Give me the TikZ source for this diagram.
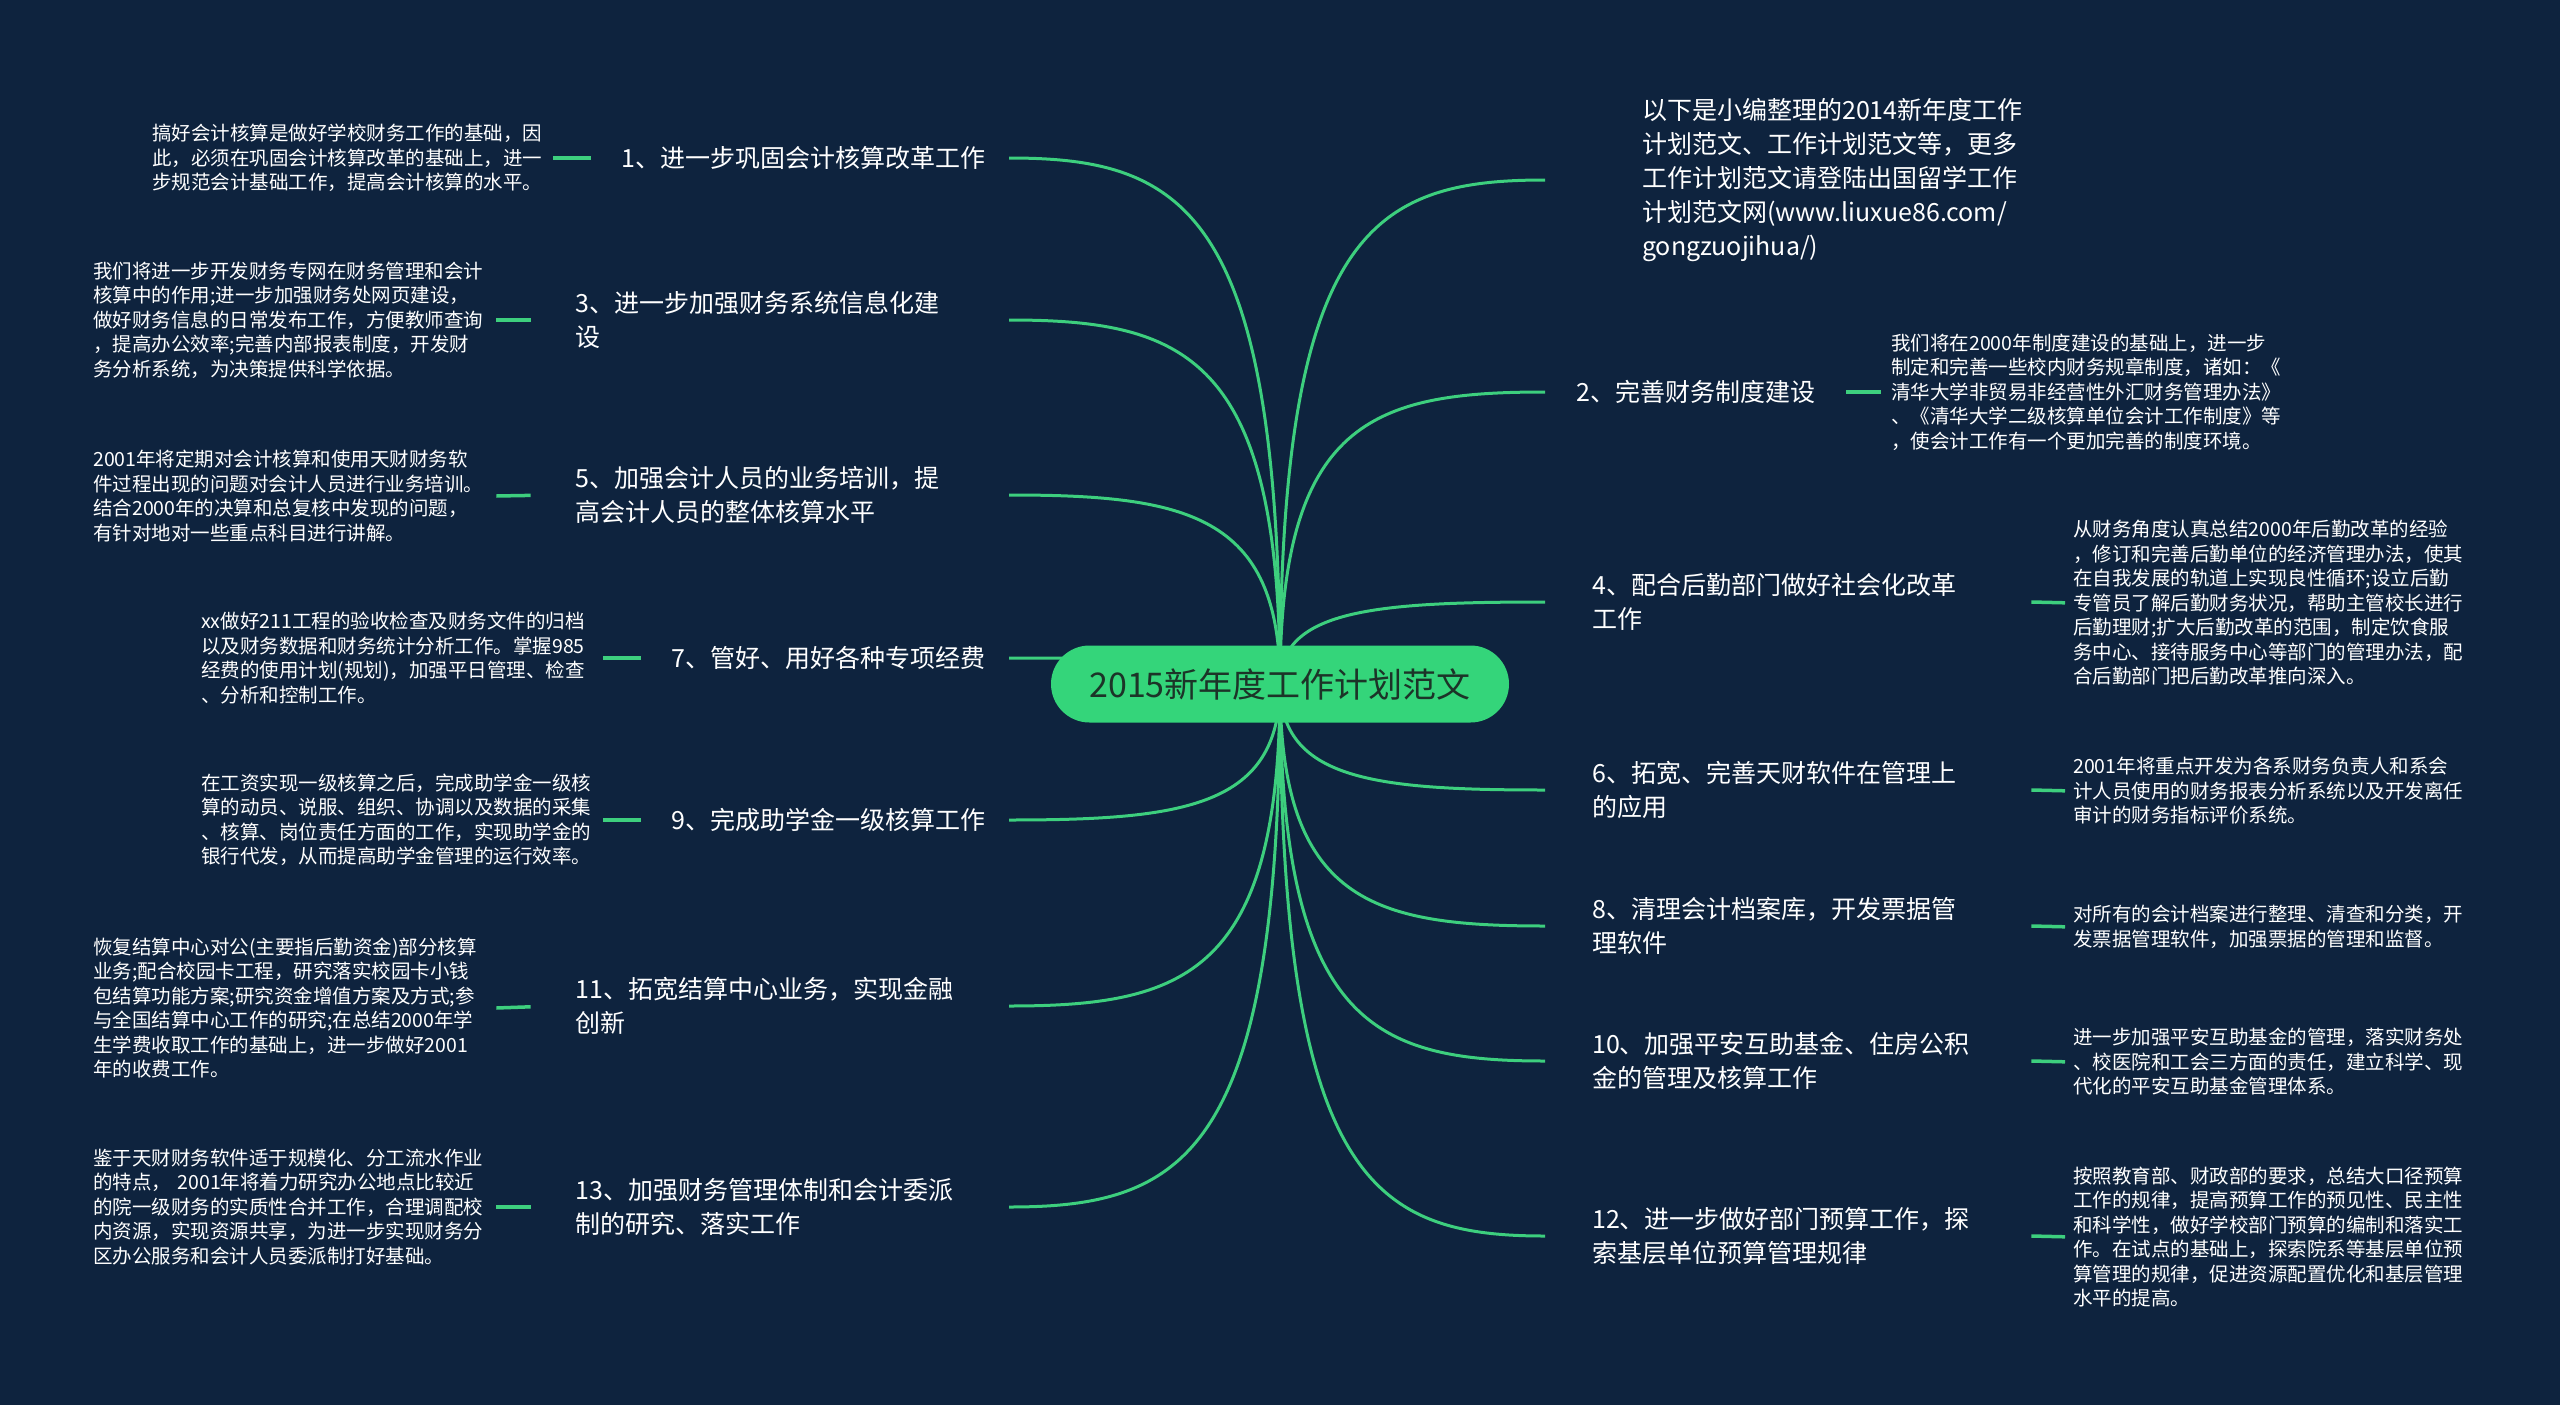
\documentclass[tikz,border=0pt]{standalone}
\usepackage{fontspec}
\newfontfamily\cjk{Noto Sans CJK SC}
\usetikzlibrary{calc}
\definecolor{bgcol}{RGB}{14,35,62}
\definecolor{linkcol}{RGB}{61,207,126}
\definecolor{rootfill}{RGB}{52,213,122}
\definecolor{roottext}{RGB}{28,52,40}
\pgfdeclarelayer{bglayer}
\pgfdeclarelayer{links}
\pgfsetlayers{bglayer,links,main}
\tikzset{
  root/.style={rectangle, rounded corners=38.5pt, fill=rootfill, minimum width=458pt,
    minimum height=77pt, inner sep=0pt, text=roottext, font=\cjk\fontsize{34}{40}\selectfont},
  topic/.style={text=white, font=\cjk\fontsize{25}{34}\selectfont, align=left, inner ysep=0pt},
  desc/.style={text=white, font=\cjk\fontsize{19.5}{24.5}\selectfont, align=left, inner sep=0pt},
  link/.style={draw=linkcol, line width=3pt},
  stub/.style={draw=linkcol, line width=3.5pt},
}
\newcommand\branchto[1]{%
  \draw[link] (root.center) .. controls ($(root.center)!0.9!(root.center|-#1)$)
    and ($(#1)!0.65!(root.center|-#1)$) .. (#1);}
\begin{document}
\begin{tikzpicture}[x=1pt,y=-1pt]
\useasboundingbox (0,0) rectangle (2560,1405);
\begin{pgfonlayer}{bglayer}
\fill[bgcol] (0,0) rectangle (2560,1405);
\end{pgfonlayer}

\node[root] (root) at (1280,684) {2015新年度工作计划范文};

% ---------- left topics ----------
\node[topic, inner xsep=23pt, anchor=east] (t1) at (1009,158) {1、进一步巩固会计核算改革工作};
\node[topic, inner xsep=23pt, text width=410pt, anchor=east] (t3) at (1009,320) {3、进一步加强财务系统信息化建\\设};
\node[topic, inner xsep=23pt, text width=410pt, anchor=east] (t5) at (1009,495) {5、加强会计人员的业务培训，提\\高会计人员的整体核算水平};
\node[topic, inner xsep=23pt, anchor=east] (t7) at (1009,658) {7、管好、用好各种专项经费};
\node[topic, inner xsep=23pt, anchor=east] (t9) at (1009,820) {9、完成助学金一级核算工作};
\node[topic, inner xsep=23pt, text width=410pt, anchor=east] (t11) at (1009,1006) {11、拓宽结算中心业务，实现金融\\创新};
\node[topic, inner xsep=23pt, text width=410pt, anchor=east] (t13) at (1009,1207) {13、加强财务管理体制和会计委派\\制的研究、落实工作};

% ---------- left descriptions ----------
\node[desc, text width=401pt, anchor=west] (d1) at (152,158) {搞好会计核算是做好学校财务工作的基础，因\\此，必须在巩固会计核算改革的基础上，进一\\步规范会计基础工作，提高会计核算的水平。};
\node[desc, text width=403pt, anchor=west] (d3) at (93,320) {我们将进一步开发财务专网在财务管理和会计\\核算中的作用;进一步加强财务处网页建设，\\做好财务信息的日常发布工作，方便教师查询\\，提高办公效率;完善内部报表制度，开发财\\务分析系统，为决策提供科学依据。};
\node[desc, text width=403pt, anchor=west] (d5) at (93,496) {2001年将定期对会计核算和使用天财财务软\\件过程出现的问题对会计人员进行业务培训。\\结合2000年的决算和总复核中发现的问题，\\有针对地对一些重点科目进行讲解。};
\node[desc, text width=402pt, anchor=west] (d7) at (201,658) {xx做好211工程的验收检查及财务文件的归档\\以及财务数据和财务统计分析工作。掌握985\\经费的使用计划(规划)，加强平日管理、检查\\、分析和控制工作。};
\node[desc, text width=402pt, anchor=west] (d9) at (201,820) {在工资实现一级核算之后，完成助学金一级核\\算的动员、说服、组织、协调以及数据的采集\\、核算、岗位责任方面的工作，实现助学金的\\银行代发，从而提高助学金管理的运行效率。};
\node[desc, text width=403pt, anchor=west] (d11) at (93,1008) {恢复结算中心对公(主要指后勤资金)部分核算\\业务;配合校园卡工程，研究落实校园卡小钱\\包结算功能方案;研究资金增值方案及方式;参\\与全国结算中心工作的研究;在总结2000年学\\生学费收取工作的基础上，进一步做好2001\\年的收费工作。};
\node[desc, text width=403pt, anchor=west] (d13) at (93,1207) {鉴于天财财务软件适于规模化、分工流水作业\\的特点， 2001年将着力研究办公地点比较近\\的院一级财务的实质性合并工作，合理调配校\\内资源，实现资源共享，为进一步实现财务分\\区办公服务和会计人员委派制打好基础。};

% ---------- right topics ----------
\node[topic, inner xsep=97pt, anchor=west] (t0) at (1545,180) {以下是小编整理的2014新年度工作\\计划范文、工作计划范文等，更多\\工作计划范文请登陆出国留学工作\\计划范文网(www.liuxue86.com/\\gongzuojihua/)};
\node[topic, inner xsep=31pt, anchor=west] (t2) at (1545,392) {2、完善财务制度建设};
\node[topic, inner xsep=47pt, text width=392pt, anchor=west] (t4) at (1545,602) {4、配合后勤部门做好社会化改革\\工作};
\node[topic, inner xsep=47pt, text width=392pt, anchor=west] (t6) at (1545,790) {6、拓宽、完善天财软件在管理上\\的应用};
\node[topic, inner xsep=47pt, text width=392pt, anchor=west] (t8) at (1545,926) {8、清理会计档案库，开发票据管\\理软件};
\node[topic, inner xsep=47pt, text width=392pt, anchor=west] (t10) at (1545,1061) {10、加强平安互助基金、住房公积\\金的管理及核算工作};
\node[topic, inner xsep=47pt, text width=392pt, anchor=west] (t12) at (1545,1236) {12、进一步做好部门预算工作，探\\索基层单位预算管理规律};

% ---------- right descriptions ----------
\node[desc, anchor=west] (d2) at (1891,392) {我们将在2000年制度建设的基础上，进一步\\制定和完善一些校内财务规章制度，诸如：《\\清华大学非贸易非经营性外汇财务管理办法》\\、《清华大学二级核算单位会计工作制度》等\\，使会计工作有一个更加完善的制度环境。};
\node[desc, anchor=west] (d4) at (2073,603) {从财务角度认真总结2000年后勤改革的经验\\，修订和完善后勤单位的经济管理办法，使其\\在自我发展的轨道上实现良性循环;设立后勤\\专管员了解后勤财务状况，帮助主管校长进行\\后勤理财;扩大后勤改革的范围，制定饮食服\\务中心、接待服务中心等部门的管理办法，配\\合后勤部门把后勤改革推向深入。};
\node[desc, anchor=west] (d6) at (2073,791) {2001年将重点开发为各系财务负责人和系会\\计人员使用的财务报表分析系统以及开发离任\\审计的财务指标评价系统。};
\node[desc, anchor=west] (d8) at (2073,927) {对所有的会计档案进行整理、清查和分类，开\\发票据管理软件，加强票据的管理和监督。};
\node[desc, anchor=west] (d10) at (2073,1062) {进一步加强平安互助基金的管理，落实财务处\\、校医院和工会三方面的责任，建立科学、现\\代化的平安互助基金管理体系。};
\node[desc, anchor=west] (d12) at (2073,1237) {按照教育部、财政部的要求，总结大口径预算\\工作的规律，提高预算工作的预见性、民主性\\和科学性，做好学校部门预算的编制和落实工\\作。在试点的基础上，探索院系等基层单位预\\算管理的规律，促进资源配置优化和基层管理\\水平的提高。};

% ---------- connectors ----------
\begin{pgfonlayer}{links}
\branchto{t1.east}
\branchto{t3.east}
\branchto{t5.east}
\branchto{t7.east}
\branchto{t9.east}
\branchto{t11.east}
\branchto{t13.east}
\branchto{t0.west}
\branchto{t2.west}
\branchto{t4.west}
\branchto{t6.west}
\branchto{t8.west}
\branchto{t10.west}
\branchto{t12.west}
\end{pgfonlayer}

\draw[stub, shorten >=8pt] (d1.east) -- (t1.west);
\draw[stub, shorten >=22pt] (d3.east) -- (t3.west);
\draw[stub, shorten >=22pt] (d5.east) -- (t5.west);
\draw[stub, shorten >=8pt] (d7.east) -- (t7.west);
\draw[stub, shorten >=8pt] (d9.east) -- (t9.west);
\draw[stub, shorten >=22pt] (d11.east) -- (t11.west);
\draw[stub, shorten >=22pt] (d13.east) -- (t13.west);
\draw[stub, shorten >=10pt] (t2.east) -- (d2.west);
\draw[stub, shorten >=8pt] (t4.east) -- (d4.west);
\draw[stub, shorten >=8pt] (t6.east) -- (d6.west);
\draw[stub, shorten >=8pt] (t8.east) -- (d8.west);
\draw[stub, shorten >=8pt] (t10.east) -- (d10.west);
\draw[stub, shorten >=8pt] (t12.east) -- (d12.west);
\end{tikzpicture}
\end{document}
